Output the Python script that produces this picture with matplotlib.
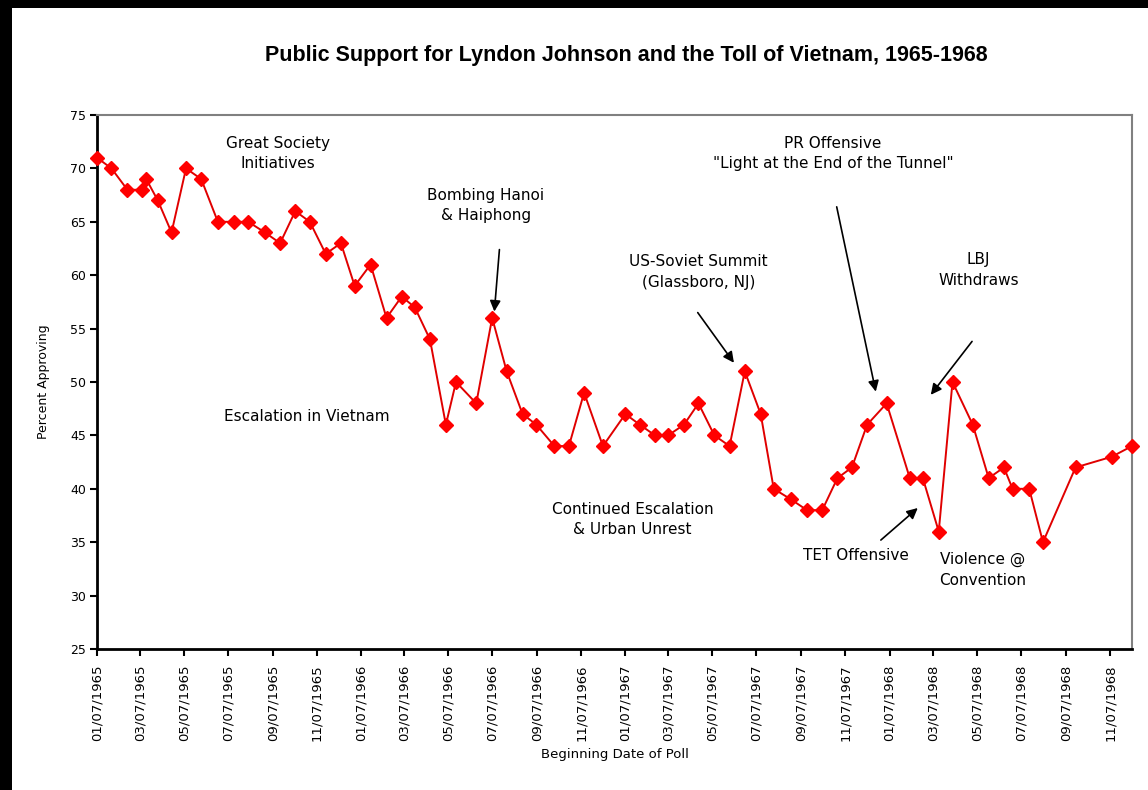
import datetime as dt
import matplotlib
matplotlib.use('Agg')
import matplotlib.pyplot as plt
import matplotlib.dates as mdates
from matplotlib.patches import Rectangle

# --- DATA ---
POLL_DATES = [
    '1965-01-07', '1965-01-27', '1965-02-18', '1965-03-10', '1965-03-16', '1965-04-01',
    '1965-04-20', '1965-05-10', '1965-05-31', '1965-06-23', '1965-07-15', '1965-08-04',
    '1965-08-27', '1965-09-17', '1965-10-08', '1965-10-28', '1965-11-19', '1965-12-10',
    '1965-12-29', '1966-01-20', '1966-02-11', '1966-03-04', '1966-03-22', '1966-04-12',
    '1966-05-04', '1966-05-18', '1966-06-15', '1966-07-07', '1966-07-27', '1966-08-18',
    '1966-09-06', '1966-10-01', '1966-10-21', '1966-11-11', '1966-12-07', '1967-01-07',
    '1967-01-27', '1967-02-17', '1967-03-07', '1967-03-29', '1967-04-18', '1967-05-10',
    '1967-05-31', '1967-06-21', '1967-07-13', '1967-07-31', '1967-08-24', '1967-09-15',
    '1967-10-06', '1967-10-27', '1967-11-16', '1967-12-07', '1968-01-03', '1968-02-04',
    '1968-02-22', '1968-03-15', '1968-04-03', '1968-05-01', '1968-05-23', '1968-06-13',
    '1968-06-25', '1968-07-18', '1968-08-06', '1968-09-20', '1968-11-09', '1968-12-07',
]
APPROVAL = [
    71, 70, 68, 68, 69, 67, 64, 70, 69, 65, 65, 65,
    64, 63, 66, 65, 62, 63, 59, 61, 56, 58, 57, 54,
    46, 50, 48, 56, 51, 47, 46, 44, 44, 49, 44, 47,
    46, 45, 45, 46, 48, 45, 44, 51, 47, 40, 39, 38,
    38, 41, 42, 46, 48, 41, 41, 36, 50, 46, 41, 42,
    40, 40, 35, 42, 43, 44,
]
TICK_DATES = ['%d-%02d-07' % (y, m) for y in (1965, 1966, 1967, 1968) for m in (1, 3, 5, 7, 9, 11)]
Y_TICKS = [25, 30, 35, 40, 45, 50, 55, 60, 65, 70, 75]

# annotation text, text position (date, value), arrow start, arrow end
NOTES = [
    ('Great Society\nInitiatives', '1965-09-14', 71.4, None, None),
    ('Escalation in Vietnam', '1965-10-24', 46.8, None, None),
    ('Bombing Hanoi\n& Haiphong', '1966-06-28', 66.5, ('1966-07-17', 62.4), ('1966-07-10', 56.6)),
    ('US-Soviet Summit\n(Glassboro, NJ)', '1967-04-18', 60.3, ('1967-04-17', 56.5), ('1967-06-06', 51.8)),
    ('PR Offensive\n"Light at the End of the Tunnel"', '1967-10-21', 71.4, ('1967-10-26', 66.4), ('1967-12-19', 49.1)),
    ('LBJ\nWithdraws', '1968-05-09', 60.5, ('1968-04-30', 53.8), ('1968-03-04', 48.8)),
    ('Continued Escalation\n& Urban Unrest', '1967-01-17', 37.1, None, None),
    ('TET Offensive', '1967-11-21', 33.8, ('1967-12-26', 35.2), ('1968-02-15', 38.2)),
    ('Violence @\nConvention', '1968-05-14', 32.4, None, None),
]


def d(s):
    return dt.datetime.strptime(s, '%Y-%m-%d')


plt.rcParams['font.family'] = ['DejaVu Sans']

fig = plt.figure(figsize=(11.48, 7.9), dpi=100)
# black frame on top and left edge of the screenshot
fig.patches.append(Rectangle((0, 0), 12 / 1148, 1, transform=fig.transFigure,
                             facecolor='black', edgecolor='none', zorder=0))
fig.patches.append(Rectangle((0, 1 - 8 / 790), 1, 8 / 790, transform=fig.transFigure,
                             facecolor='black', edgecolor='none', zorder=0))

ax = fig.add_axes([97 / 1148, 1 - 649 / 790, (1132 - 97) / 1148, (649 - 115) / 790])

dates = [d(s) for s in POLL_DATES]
ax.plot(dates, APPROVAL, color='#e00000', lw=1.4, marker='D', markersize=7,
        markerfacecolor='#ff0000', markeredgecolor='#ff0000', clip_on=False, zorder=3)

ax.set_xlim(d(POLL_DATES[0]), d(POLL_DATES[-1]))
ax.set_ylim(25, 75)
ax.set_yticks(Y_TICKS)
ax.set_yticklabels([str(v) for v in Y_TICKS], fontsize=9)
ax.set_xticks([mdates.date2num(d(s)) for s in TICK_DATES])
ax.set_xticklabels([d(s).strftime('%m/%d/%Y') for s in TICK_DATES],
                   rotation=90, fontsize=9.5)
ax.tick_params(axis='both', direction='out', length=5, width=1.5, colors='black', pad=3)
ax.tick_params(axis='x', pad=6)

for side in ('left', 'bottom'):
    ax.spines[side].set_linewidth(2)
    ax.spines[side].set_color('black')
for side in ('top', 'right'):
    ax.spines[side].set_linewidth(1.5)
    ax.spines[side].set_color('#808080')

ax.set_ylabel('Percent Approving', fontsize=9)
ax.yaxis.set_label_coords(-0.045, 0.5)
ax.set_xlabel('Beginning Date of Poll', fontsize=9.5, labelpad=5)

fig.text(626 / 1148, 1 - 55 / 790,
         'Public Support for Lyndon Johnson and the Toll of Vietnam, 1965-1968',
         ha='center', va='center', fontsize=15.5, fontweight='bold',
         family=['Liberation Sans Narrow', 'Liberation Sans', 'DejaVu Sans'])

for text, tx, ty, a0, a1 in NOTES:
    ax.text(d(tx), ty, text, ha='center', va='center', fontsize=11,
            linespacing=1.45, zorder=4)
    if a0 is not None:
        ax.annotate('', xy=(d(a1[0]), a1[1]), xytext=(d(a0[0]), a0[1]),
                    arrowprops=dict(arrowstyle='-|>', color='black', lw=1.2,
                                    mutation_scale=16, shrinkA=0, shrinkB=0))

fig.savefig('out.png', dpi=100, facecolor='white')
